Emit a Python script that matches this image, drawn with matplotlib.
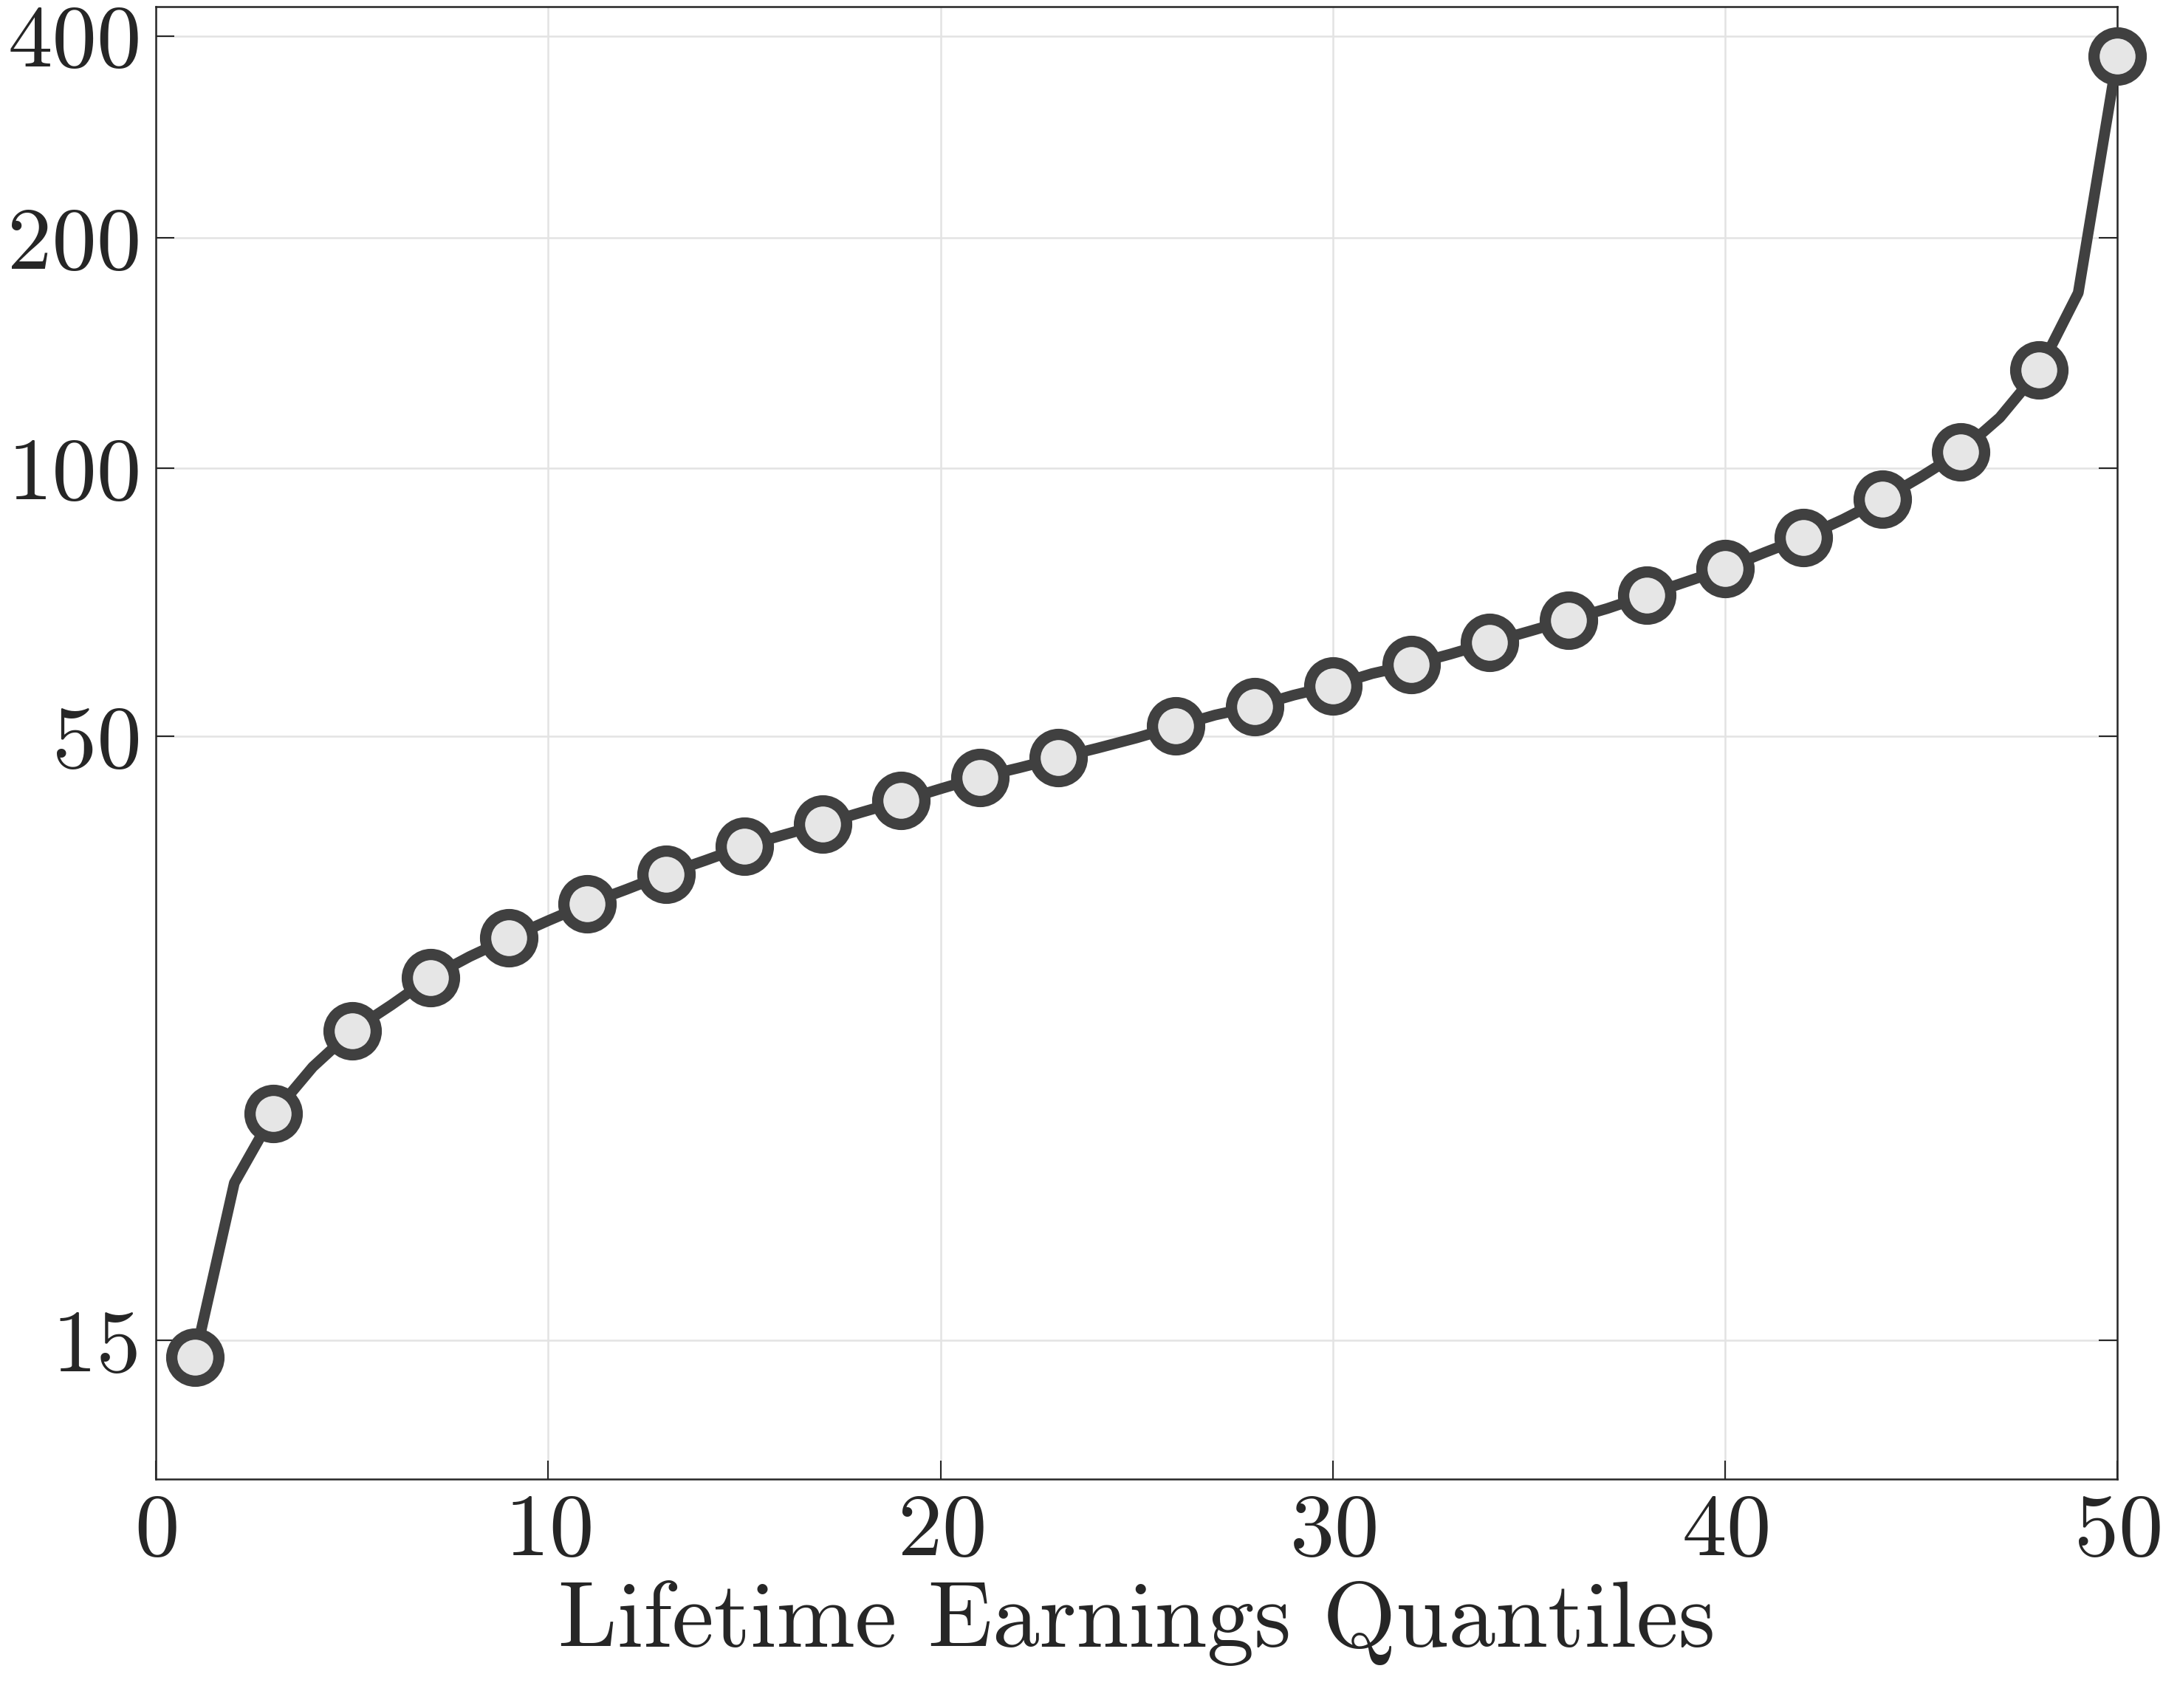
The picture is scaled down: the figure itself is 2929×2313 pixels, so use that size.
import numpy as np
import matplotlib
matplotlib.use("Agg")
import matplotlib.pyplot as plt

quantiles = np.arange(1, 51)
values = [14.6, 19.7, 22.4, 24.5, 26.3, 27.7, 29.3, 30.6, 31.8, 33.0,
          34.2, 35.3, 36.5, 37.6, 38.8, 39.8, 40.8, 41.9, 43.0, 44.2,
          45.4, 46.4, 47.5, 48.6, 49.8, 51.2, 52.6, 53.7, 55.2, 56.5,
          58.2, 59.5, 61.1, 62.9, 64.7, 66.6, 68.6, 71.0, 73.5, 76.1,
          79.4, 82.7, 86.8, 91.7, 97.7, 104.7, 115.5, 132.7, 168.0, 372.0]
marker_idx = list(range(0, 23, 2)) + list(range(25, 50, 2))
yticks = [15, 50, 100, 200, 400]

plt.rcParams['font.family'] = ['cmr10', 'DejaVu Serif']
plt.rcParams['axes.formatter.use_mathtext'] = True

fig = plt.figure(figsize=(29.29, 23.13), dpi=100)
ax = fig.add_axes([113 / 1568, 1 - 1072 / 1238, (1535 - 113) / 1568, (1072 - 5) / 1238])

# y axis is spaced as log(log(y))
fwd = lambda y: np.log(np.log(np.clip(y, 1.0001, None)))
inv = lambda z: np.exp(np.exp(z))
ax.set_yscale('function', functions=(fwd, inv))

col = '#404040'
ax.plot(quantiles, values, color=col, lw=10.5, zorder=3)
ax.plot(quantiles[marker_idx], np.array(values)[marker_idx], 'o', ms=46,
        mfc='#e6e6e6', mec=col, mew=11, zorder=4, clip_on=False)

ax.set_xlim(0, 50)
ax.set_ylim(12.05, 445)
ax.set_yticks(yticks)
ax.set_yticklabels([str(t) for t in yticks])
ax.minorticks_off()
ax.set_xticks([0, 10, 20, 30, 40, 50])
ax.grid(True, color='#e3e3e3', lw=1.8)
ax.tick_params(direction='in', length=18, width=1.5, labelsize=87,
               right=True, colors='#262626', pad=14)
for s in ax.spines.values():
    s.set_linewidth(1.8)
    s.set_color('#262626')
ax.set_xlabel('Lifetime Earnings Quantiles', fontsize=92, color='#262626', labelpad=8)

fig.savefig('out.png', dpi=100)
